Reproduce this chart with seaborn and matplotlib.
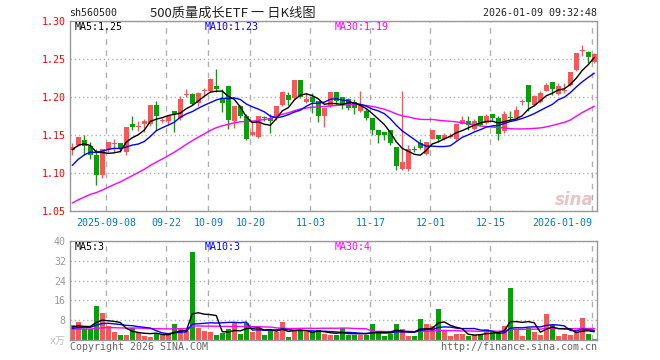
import numpy as np
import pandas as pd
import matplotlib
matplotlib.use("Agg")
import matplotlib.pyplot as plt
import seaborn as sns

# daily bars, 2025-08-29 .. 2026-01-09 (88 sessions)
open_ = [1.130, 1.137, 1.143, 1.136, 1.124, 1.098, 1.131, 1.138, 1.139, 1.128,
         1.164, 1.160, 1.164, 1.164, 1.190, 1.169, 1.169, 1.181, 1.172, 1.203,
         1.204, 1.192, 1.208, 1.208, 1.215, 1.199, 1.215, 1.168, 1.188, 1.175,
         1.150, 1.147, 1.173, 1.172, 1.175, 1.189, 1.202, 1.199, 1.222, 1.194,
         1.200, 1.195, 1.175, 1.188, 1.206, 1.200, 1.197, 1.193, 1.181, 1.181,
         1.172, 1.157, 1.154, 1.156, 1.134, 1.105, 1.105, 1.131, 1.140, 1.125,
         1.145, 1.150, 1.145, 1.148, 1.145, 1.165, 1.168, 1.158, 1.175, 1.166,
         1.177, 1.172, 1.155, 1.174, 1.172, 1.193, 1.216, 1.189, 1.193, 1.208,
         1.220, 1.204, 1.208, 1.216, 1.235, 1.261, 1.259, 1.246]
high = [1.140, 1.148, 1.150, 1.141, 1.131, 1.131, 1.141, 1.145, 1.139, 1.160,
        1.175, 1.169, 1.171, 1.189, 1.195, 1.172, 1.175, 1.181, 1.201, 1.210,
        1.205, 1.206, 1.212, 1.225, 1.237, 1.210, 1.215, 1.188, 1.190, 1.177,
        1.168, 1.175, 1.175, 1.178, 1.188, 1.206, 1.206, 1.222, 1.222, 1.205,
        1.205, 1.195, 1.186, 1.206, 1.206, 1.200, 1.199, 1.197, 1.208, 1.186,
        1.172, 1.157, 1.154, 1.156, 1.134, 1.208, 1.137, 1.136, 1.145, 1.141,
        1.156, 1.150, 1.153, 1.153, 1.165, 1.175, 1.175, 1.171, 1.175, 1.177,
        1.178, 1.175, 1.182, 1.181, 1.188, 1.197, 1.216, 1.202, 1.208, 1.219,
        1.220, 1.219, 1.218, 1.233, 1.258, 1.268, 1.261, 1.258]
low = [1.124, 1.135, 1.124, 1.118, 1.084, 1.093, 1.128, 1.128, 1.128, 1.124,
       1.157, 1.155, 1.154, 1.162, 1.157, 1.166, 1.164, 1.154, 1.170, 1.200,
       1.190, 1.188, 1.203, 1.206, 1.206, 1.180, 1.158, 1.159, 1.172, 1.143,
       1.149, 1.146, 1.169, 1.152, 1.170, 1.188, 1.189, 1.197, 1.199, 1.192,
       1.179, 1.167, 1.161, 1.187, 1.189, 1.184, 1.183, 1.178, 1.180, 1.170,
       1.150, 1.140, 1.144, 1.137, 1.104, 1.104, 1.103, 1.127, 1.132, 1.124,
       1.145, 1.141, 1.144, 1.146, 1.144, 1.164, 1.157, 1.157, 1.162, 1.165,
       1.170, 1.143, 1.153, 1.170, 1.171, 1.189, 1.181, 1.188, 1.192, 1.208,
       1.203, 1.203, 1.205, 1.215, 1.234, 1.254, 1.245, 1.245]
close = [1.134, 1.147, 1.135, 1.124, 1.098, 1.131, 1.141, 1.139, 1.132, 1.160,
         1.160, 1.161, 1.169, 1.189, 1.175, 1.170, 1.175, 1.177, 1.197, 1.204,
         1.191, 1.205, 1.208, 1.224, 1.210, 1.192, 1.170, 1.188, 1.175, 1.145,
         1.154, 1.175, 1.172, 1.168, 1.188, 1.206, 1.196, 1.222, 1.200, 1.197,
         1.194, 1.175, 1.186, 1.206, 1.195, 1.189, 1.186, 1.186, 1.190, 1.172,
         1.157, 1.150, 1.150, 1.139, 1.109, 1.114, 1.131, 1.130, 1.133, 1.141,
         1.156, 1.145, 1.150, 1.149, 1.165, 1.170, 1.163, 1.168, 1.163, 1.175,
         1.172, 1.151, 1.177, 1.173, 1.183, 1.193, 1.193, 1.201, 1.205, 1.216,
         1.210, 1.214, 1.209, 1.233, 1.258, 1.261, 1.252, 1.256]
volume = [6.0, 7.1, 4.4, 4.3, 13.6, 10.8, 5.7, 3.2, 2.0, 2.0,
          4.7, 3.3, 1.6, 1.3, 2.9, 2.0, 2.7, 6.4, 4.3, 3.7,
          35.7, 4.9, 3.6, 3.3, 2.0, 2.9, 4.3, 6.7, 2.5, 6.7,
          3.3, 5.6, 2.0, 3.6, 3.3, 7.1, 1.3, 3.6, 4.0, 3.1,
          3.3, 4.0, 2.3, 2.0, 2.0, 4.7, 2.0, 2.0, 2.0, 2.0,
          6.4, 3.3, 1.6, 2.4, 6.4, 4.4, 1.6, 1.6, 8.4, 6.4,
          5.6, 12.4, 3.7, 1.6, 2.4, 2.4, 1.6, 2.0, 2.4, 4.4,
          3.1, 3.1, 5.6, 20.9, 4.4, 1.6, 4.7, 3.1, 2.0, 10.4,
          6.0, 1.6, 2.4, 2.0, 3.1, 8.8, 2.4, 0.4]

# sessions before the window (only needed so the moving averages start at the left edge)
earlier_close = [1.021, 1.025, 1.019, 1.028, 1.031, 1.026, 1.033, 1.030, 1.036, 1.039,
                 1.035, 1.042, 1.038, 1.044, 1.047, 1.043, 1.041, 1.046, 1.045, 1.046,
                 1.067, 1.077, 1.087, 1.102, 1.114, 1.118, 1.125, 1.135, 1.141]
earlier_volume = [3.5, 4.2, 5.0, 3.8, 4.6, 3.2, 4.4, 5.1, 3.9, 4.0,
                  3.6, 4.8, 4.3, 3.7, 4.5, 3.9, 4.2, 3.8, 4.0, 3.5,
                  3.8, 4.5, 3.6, 4.2, 4.4, 4.9, 5.6, 4.6, 5.4]

tick_idx = [6, 16, 23, 30, 40, 50, 60, 70, 87]
tick_text = ['2025-09-08', '09-22', '10-09', '10-20', '11-03', '11-17', '12-01', '12-15', '2026-01-09']
price_ticks = [1.05, 1.10, 1.15, 1.20, 1.25, 1.30]
vol_ticks = [8, 16, 24, 32, 40]

n = len(close)
idx = np.arange(n)
df = pd.DataFrame({'open': open_, 'high': high, 'low': low, 'close': close, 'vol': volume})

c_all = pd.Series(earlier_close + close)
v_all = pd.Series(earlier_volume + volume)
for w in (5, 10, 30):
    df[f'ma{w}'] = c_all.rolling(w).mean().iloc[-n:].values
    df[f'vma{w}'] = v_all.rolling(w).mean().iloc[-n:].values

RED = '#ff5454'
GREEN = '#00a600'
GRID = '#b0b0b0'
up = df['close'] >= df['open']
colors = np.where(up, RED, GREEN)

sns.set_style('white')
plt.rcParams['font.family'] = ['DejaVu Sans Mono', 'Noto Sans CJK SC']
MONO = 7.2

W, H = 660, 360
fig = plt.figure(figsize=(6.6, 3.6), dpi=100)
L, R = 70, 597.3
ax = fig.add_axes([L / W, 1 - 211 / H, (R - L) / W, 190 / H])
axv = fig.add_axes([L / W, 1 - 340 / H, (R - L) / W, 99 / H])

xl = (-0.38, 87.5)

# candles
ax.vlines(idx, df['low'], df['high'], colors=colors, lw=1, zorder=2)
body_lo = np.minimum(df['open'], df['close'])
body_h = np.maximum((df['close'] - df['open']).abs(), 0.0013)
ax.bar(idx, body_h, bottom=body_lo, width=0.82, color=colors, lw=0, zorder=3)
sns.lineplot(x=idx, y=df['ma30'], ax=ax, color='#ff00ff', lw=1, zorder=4)
sns.lineplot(x=idx, y=df['ma10'], ax=ax, color='#0000ff', lw=1, zorder=4)
sns.lineplot(x=idx, y=df['ma5'], ax=ax, color='black', lw=1, zorder=5)

ax.set_xlim(*xl)
ax.set_ylim(1.05, 1.30)
ax.set_yticks(price_ticks)
ax.set_yticklabels([f'{t:.2f}' for t in price_ticks])
ax.set_xticks(np.array(tick_idx) - 0.33)
ax.set_xticklabels(tick_text)
ax.get_xticklabels()[-1].set_ha('right')
ax.tick_params(axis='y', length=0, pad=3, labelcolor='red', labelsize=MONO)
ax.tick_params(axis='x', length=0, pad=5, labelcolor='#0078d0', labelsize=MONO)
ax.set_xlabel('')
ax.set_ylabel('')

# volume
axv.bar(idx, df['vol'], width=0.82, color=colors, lw=0, zorder=2)
sns.lineplot(x=idx, y=df['vma30'], ax=axv, color='#ff00ff', lw=1, zorder=4)
sns.lineplot(x=idx, y=df['vma10'], ax=axv, color='#0000ff', lw=1, zorder=4)
sns.lineplot(x=idx, y=df['vma5'], ax=axv, color='black', lw=1, zorder=5)
axv.set_xlim(*xl)
axv.set_ylim(0, 40)
axv.set_yticks(vol_ticks)
axv.set_yticklabels([str(t) for t in vol_ticks])
axv.set_xticks(np.array(tick_idx) - 0.33)
axv.set_xticklabels([])
axv.tick_params(axis='both', length=0, pad=3, labelcolor='#999999', labelsize=MONO)
axv.set_xlabel('')
axv.set_ylabel('')

for a in (ax, axv):
    a.set_axisbelow(True)
    a.grid(axis='y', color=GRID, ls=(0, (1, 2)), lw=1)
    a.grid(axis='x', color=GRID, ls=(0, (4, 4)), lw=1)
    for s in a.spines.values():
        s.set_color('#999999')
        s.set_linewidth(1)
        s.set_visible(True)

def fx(x):
    return x / W

def fy(y):
    return 1 - y / H

# header
fig.text(fx(69), fy(13), 'sh560500', fontsize=MONO, va='center', color='#222222')
fig.text(fx(233), fy(13), '500质量成长ETF 一 日K线图', fontsize=9.5, ha='center', va='center',
         family=['Noto Sans CJK SC', 'DejaVu Sans'], color='#222222')
fig.text(fx(597), fy(13), '2026-01-09 09:32:48', fontsize=MONO, ha='right', va='center', color='#222222')

# moving average legends
fig.text(fx(75), fy(26.5), f"MA5:{df['ma5'].iloc[-1]:.2f}", fontsize=MONO, va='center', color='black')
fig.text(fx(205), fy(26.5), f"MA10:{df['ma10'].iloc[-1]:.2f}", fontsize=MONO, va='center', color='#0000ff')
fig.text(fx(335), fy(26.5), f"MA30:{df['ma30'].iloc[-1]:.2f}", fontsize=MONO, va='center', color='#ff00ff')
fig.text(fx(75), fy(246.5), f"MA5:{int(df['vma5'].iloc[-1])}", fontsize=MONO, va='center', color='black')
fig.text(fx(205), fy(246.5), f"MA10:{int(df['vma10'].iloc[-1])}", fontsize=MONO, va='center', color='#0000ff')
fig.text(fx(335), fy(246.5), f"MA30:{int(df['vma30'].iloc[-1])}", fontsize=MONO, va='center', color='#ff00ff')

# footer, unit and watermark
fig.text(fx(66), fy(341), 'x万', fontsize=MONO, ha='right', va='center', color='#bbbbbb',
         family=['DejaVu Sans Mono', 'Noto Sans CJK SC'])
fig.text(fx(70), fy(347), 'Copyright 2026 SINA.COM', fontsize=MONO, va='center', color='#666666')
fig.text(fx(597), fy(347), 'http://finance.sina.com.cn', fontsize=MONO, ha='right', va='center', color='#666666')
fig.text(fx(594), fy(200), 'sina', fontsize=12, ha='right', va='center', color='#e8c4c4',
         style='italic', weight='bold', family='DejaVu Sans', zorder=1)

fig.savefig('out.png', dpi=100)
